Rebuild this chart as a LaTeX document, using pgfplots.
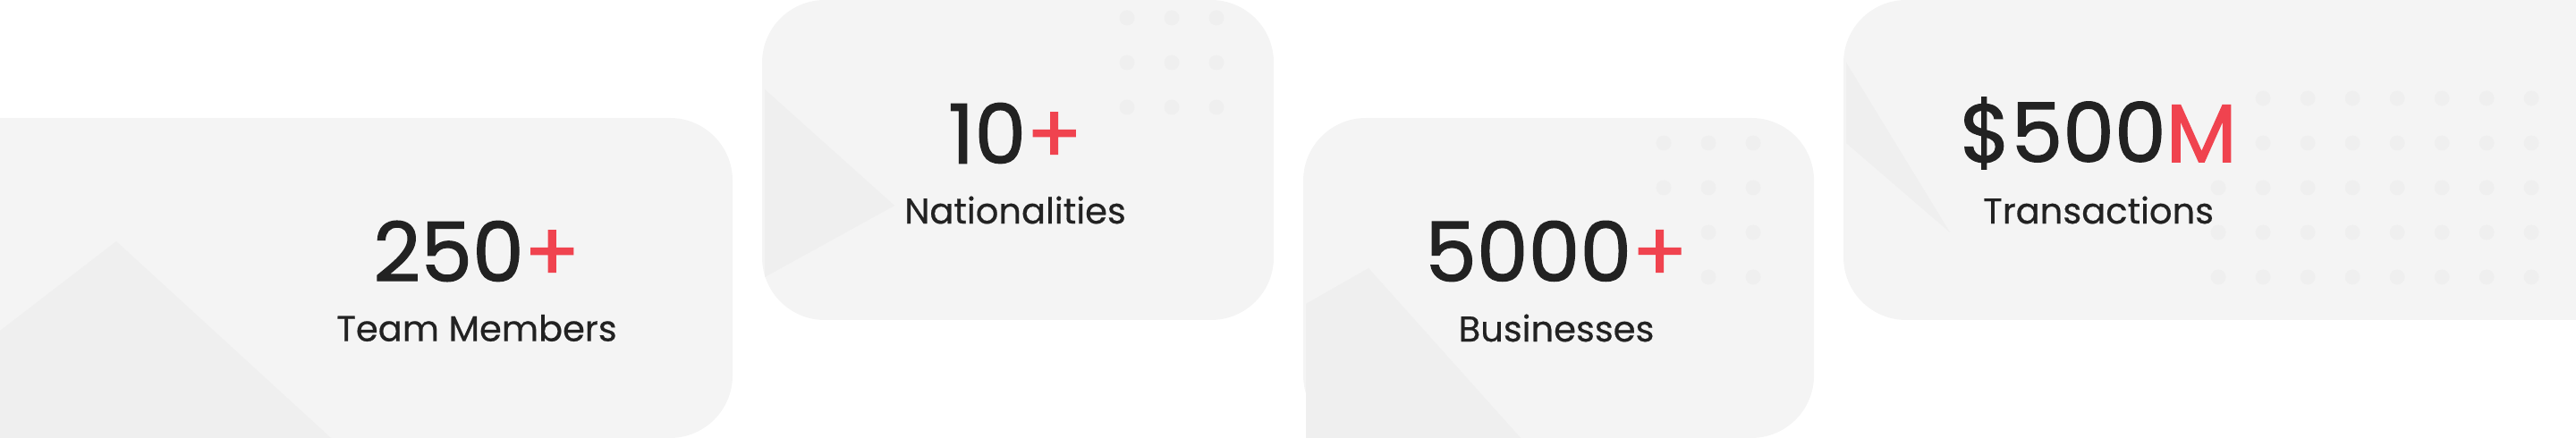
\documentclass[border=0pt]{standalone}
\usepackage{pgfplots}
\pgfplotsset{compat=1.18}
\usepackage{fontspec}
\setmainfont{Poppins}
\newfontfamily\numfont{Poppins}[FakeBold=1.3]
\newfontfamily\labfont{Poppins}[FakeBold=0.5]
\definecolor{card}{HTML}{F4F4F4}
\definecolor{deco}{HTML}{EFEFEF}
\definecolor{ink}{HTML}{222222}
\definecolor{accent}{HTML}{F0434F}
\begin{document}
\begin{tikzpicture}
\begin{axis}[width=1440pt,height=245pt,scale only axis,xmin=0,xmax=2880,ymin=0,ymax=490,
  hide axis,clip=false,at={(0,0)},anchor=south west]
\fill[card,rounded corners=35pt] (axis cs:-80,0) rectangle (axis cs:819,358);
\fill[card,rounded corners=35pt] (axis cs:852,132) rectangle (axis cs:1424,490);
\fill[card,rounded corners=35pt] (axis cs:1457,0) rectangle (axis cs:2028,358);
\fill[card,rounded corners=35pt] (axis cs:2061,132) rectangle (axis cs:2960,490);
\fill[deco] (axis cs:0,120) -- (axis cs:130,220) -- (axis cs:370,0) -- (axis cs:0,0) -- cycle;
\fill[deco] (axis cs:855,390) -- (axis cs:1000,260) -- (axis cs:855,180) -- cycle;
\fill[deco] (axis cs:1460,150) -- (axis cs:1530,190) -- (axis cs:1700,0) -- (axis cs:1460,0) -- cycle;
\fill[deco] (axis cs:2064,420) -- (axis cs:2180,230) -- (axis cs:2064,330) -- cycle;
\addplot[only marks,mark=*,mark size=4pt,color=deco,forget plot] coordinates {
(1260,470)(1310,470)(1360,470)(1260,420)(1310,420)(1360,420)(1260,370)(1310,370)(1360,370)
(1860,330)(1910,330)(1960,330)(1860,280)(1910,280)(1960,280)(1910,230)(1960,230)(1910,180)(1960,180)
(2530,380)(2580,380)(2630,380)(2680,380)(2730,380)(2780,380)(2830,380)
(2530,330)(2580,330)(2630,330)(2680,330)(2730,330)(2780,330)(2830,330)
(2480,280)(2530,280)(2580,280)(2630,280)(2680,280)(2730,280)(2780,280)(2830,280)
(2480,230)(2530,230)(2580,230)(2630,230)(2680,230)(2730,230)(2780,230)(2830,230)
(2480,180)(2530,180)(2580,180)(2630,180)(2680,180)(2730,180)(2780,180)(2830,180)
};
\node[text=ink,font=\fontsize{46}{55}\numfont] at (axis cs:533,209) {250\textcolor{accent}{+}};
\node[text=ink,font=\fontsize{20}{24}\labfont] at (axis cs:533,123) {Team Members};
\node[text=ink,font=\fontsize{46}{55}\numfont] at (axis cs:1135,341) {10\textcolor{accent}{+}};
\node[text=ink,font=\fontsize{20}{24}\labfont] at (axis cs:1135,255) {Nationalities};
\node[text=ink,font=\fontsize{46}{55}\numfont] at (axis cs:1740,209) {5000\textcolor{accent}{+}};
\node[text=ink,font=\fontsize{20}{24}\labfont] at (axis cs:1740,123) {Businesses};
\node[text=ink,font=\fontsize{46}{55}\numfont] at (axis cs:2346,341) {\$500\textcolor{accent}{M}};
\node[text=ink,font=\fontsize{20}{24}\labfont] at (axis cs:2346,255) {Transactions};
\end{axis}
\pgfresetboundingbox
\useasboundingbox (0,0) rectangle (1440pt,245pt);
\end{tikzpicture}
\end{document}
